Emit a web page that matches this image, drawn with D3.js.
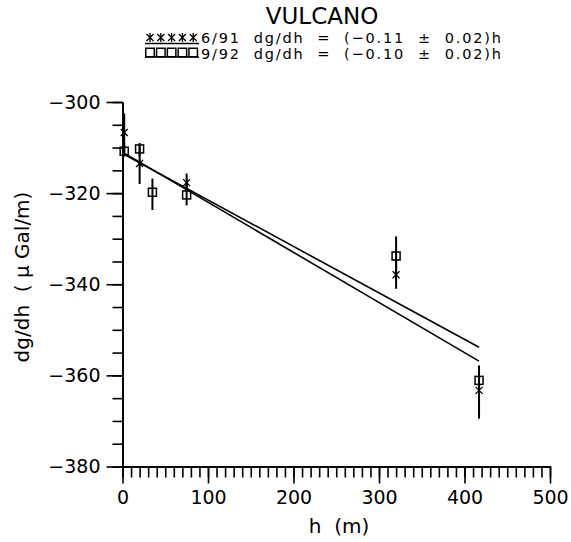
<!DOCTYPE html>
<html>
<head>
<meta charset="utf-8">
<script src="https://cdn.jsdelivr.net/npm/d3@7"></script>
<style>
  body { margin: 0; background: #fff; }
  svg { display: block; }
  text { font-family: "DejaVu Sans", sans-serif; fill: #000; }
</style>
</head>
<body>
<svg id="chart" width="571" height="542"></svg>
<script>
// ---- Data ----
const title = "VULCANO";
const seriesNames = ["6/91", "9/92"];
const seriesFormulas = ["dg/dh  =  (\u22120.11  \u00b1  0.02)h", "dg/dh  =  (\u22120.10  \u00b1  0.02)h"];

// 6/91 (asterisks)
const h91 = [2, 20, 75, 320, 417];
const g91 = [-306.7, -313.5, -317.7, -337.9, -363.3];
const lo91 = [-311.0, -318.0, -319.7, -341.0, -369.5];
const hi91 = [-302.5, -309.5, -315.7, -334.0, -360.0];

// 9/92 (squares)
const h92 = [2, 20, 35, 75, 320, 417];
const g92 = [-310.8, -310.3, -319.8, -320.4, -333.8, -361.1];
const lo92 = [-312.0, -312.0, -323.7, -322.7, -338.0, -364.4];
const hi92 = [-309.0, -309.0, -316.8, -318.0, -329.5, -357.8];

// regression fits: intercept, slope
const fitIntercept = [-311.0, -311.3];
const fitSlope = [-0.110, -0.102];

const xTicks = [0, 100, 200, 300, 400, 500];
const yTicks = [-300, -320, -340, -360, -380];

// ---- Scales ----
const svg = d3.select("#chart");
const x = d3.scaleLinear().domain([0, 500]).range([122.5, 550]);
const y = d3.scaleLinear().domain([-300, -380]).range([102, 466.5]);

// ---- Axes ----
const yMinor = d3.axisLeft(y).tickValues(d3.range(-300, -381, -5)).tickSize(10).tickFormat("").tickSizeOuter(0);
const yMajor = d3.axisLeft(y).tickValues(yTicks).tickSize(16).tickPadding(6).tickSizeOuter(0)
  .tickFormat(d => d3.format("d")(d).replace("-", "\u2212"));
const xMinor = d3.axisBottom(x).tickValues(d3.range(0, 501, 10)).tickSize(11).tickFormat("").tickSizeOuter(0);
const xMajor = d3.axisBottom(x).tickValues(xTicks).tickSize(17).tickPadding(7).tickSizeOuter(0)
  .tickFormat(d3.format("d"));

function styleAxis(g) {
  g.selectAll("path.domain").attr("stroke", "#000").attr("stroke-width", 1.8);
  g.selectAll(".tick line").attr("stroke", "#000").attr("stroke-width", 1.6);
  g.selectAll(".tick text").style("font-size", "19px").attr("fill", "#000");
}

svg.append("g").attr("transform", `translate(${x(0)},0)`).call(yMinor).call(styleAxis);
svg.append("g").attr("transform", `translate(${x(0)},0)`).call(yMajor).call(styleAxis);
svg.append("g").attr("transform", `translate(0,${y(-380)})`).call(xMinor).call(styleAxis);
svg.append("g").attr("transform", `translate(0,${y(-380)})`).call(xMajor).call(styleAxis);

// ---- Axis labels ----
svg.append("text").attr("x", 339).attr("y", 533).attr("text-anchor", "middle")
  .style("font-size", "20px").attr("xml:space", "preserve").text("h  (m)");
svg.append("text").attr("transform", "translate(29,277) rotate(-90)").attr("text-anchor", "middle")
  .style("font-size", "20px").attr("xml:space", "preserve").text("dg/dh  ( \u03bc Gal/m)");

// ---- Title ----
svg.append("text").attr("x", 322).attr("y", 23.5).attr("text-anchor", "middle")
  .style("font-size", "23px").text(title);

// ---- Fit lines ----
const hExtent = d3.extent(h91.concat(h92));
const lineGen = d3.line().x(d => x(d[0])).y(d => y(d[1]));
fitIntercept.forEach((b, i) => {
  const pts = [[0, b], [hExtent[1], b + fitSlope[i] * hExtent[1]]];
  svg.append("path").attr("d", lineGen(pts)).attr("fill", "none")
    .attr("stroke", "#000").attr("stroke-width", 1.6);
});

// ---- Error bars ----
function errorBars(hs, lo, hi) {
  svg.append("g").selectAll("line").data(hs).join("line")
    .attr("x1", d => x(d)).attr("x2", d => x(d))
    .attr("y1", (d, i) => y(lo[i])).attr("y2", (d, i) => y(hi[i]))
    .attr("stroke", "#000").attr("stroke-width", 2);
}
errorBars(h91, lo91, hi91);
errorBars(h92, lo92, hi92);

// ---- Markers ----
function asterisk(g, cx, cy, r) {
  g.append("path").attr("d",
    `M${cx - r},${cy - r}L${cx + r},${cy + r}M${cx - r},${cy + r}L${cx + r},${cy - r}M${cx},${cy - r * 1.3}L${cx},${cy + r * 1.3}`)
    .attr("stroke", "#000").attr("stroke-width", 1.3).attr("fill", "none");
}
function square(g, cx, cy, s) {
  g.append("rect").attr("x", cx - s / 2).attr("y", cy - s / 2).attr("width", s).attr("height", s)
    .attr("fill", "none").attr("stroke", "#000").attr("stroke-width", 1.5);
}
const gm = svg.append("g");
h91.forEach((h, i) => asterisk(gm, x(h), y(g91[i]), 3.5));
h92.forEach((h, i) => square(gm, x(h), y(g92[i]), 8));

// ---- Legend ----
const lg = svg.append("g");
for (let k = 0; k < 5; k++) asterisk(lg, 150 + k * 10.8, 37.5, 3.5);
lg.append("line").attr("x1", 145).attr("x2", 199).attr("y1", 43.5).attr("y2", 43.5)
  .attr("stroke", "#000").attr("stroke-width", 1.3);
for (let k = 0; k < 5; k++) square(lg, 150 + k * 10.8, 52.5, 8.5);
lg.append("line").attr("x1", 145).attr("x2", 199).attr("y1", 57).attr("y2", 57)
  .attr("stroke", "#000").attr("stroke-width", 1.3);
lg.append("text").attr("x", 201).attr("y", 42.5).style("font-size", "14.5px")
  .attr("textLength", 300).attr("lengthAdjust", "spacing")
  .attr("xml:space", "preserve").text(seriesNames[0] + "  " + seriesFormulas[0]);
lg.append("text").attr("x", 201).attr("y", 59).style("font-size", "14.5px")
  .attr("textLength", 300).attr("lengthAdjust", "spacing")
  .attr("xml:space", "preserve").text(seriesNames[1] + "  " + seriesFormulas[1]);
</script>
</body>
</html>
